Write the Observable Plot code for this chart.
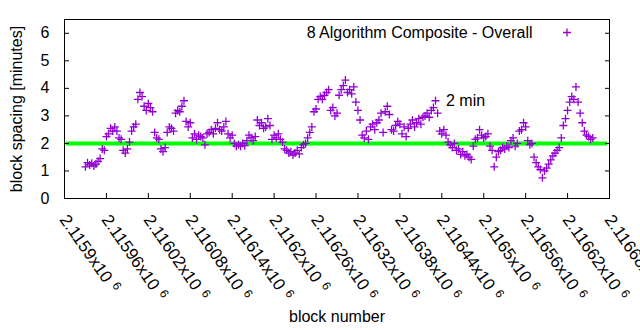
<!DOCTYPE html>
<html>
<head>
<meta charset="utf-8">
<script src="https://cdn.jsdelivr.net/npm/d3@7"></script>
<script src="https://cdn.jsdelivr.net/npm/@observablehq/plot@0.6"></script>
<style>
  html, body { margin: 0; padding: 0; background: #fff; }
  #chart svg { display: block; }
</style>
</head>
<body>
<div id="chart"></div>
<script>
// ---- data ----
const blocks = [
  2115930,2115933,2115936,2115939,2115942,2115945,2115948,2115951,2115954,2115957,
  2115960,2115963,2115966,2115969,2115972,2115975,2115978,2115981,2115984,2115987,
  2115990,2115993,2115996,2115999,2116002,2116005,2116008,2116011,2116014,2116017,
  2116020,2116023,2116026,2116029,2116032,2116035,2116038,2116041,2116044,2116047,
  2116050,2116053,2116056,2116059,2116062,2116065,2116068,2116071,2116074,2116077,
  2116080,2116083,2116086,2116089,2116092,2116095,2116098,2116101,2116104,2116107,
  2116110,2116113,2116116,2116119,2116122,2116125,2116128,2116131,2116134,2116137,
  2116140,2116143,2116146,2116149,2116152,2116155,2116158,2116161,2116164,2116167,
  2116170,2116173,2116176,2116179,2116182,2116185,2116188,2116191,2116194,2116197,
  2116200,2116203,2116206,2116209,2116212,2116215,2116218,2116221,2116224,2116227,
  2116230,2116233,2116236,2116239,2116242,2116245,2116248,2116251,2116254,2116257,
  2116260,2116263,2116266,2116269,2116272,2116275,2116278,2116281,2116284,2116287,
  2116290,2116293,2116296,2116299,2116302,2116305,2116308,2116311,2116314,2116317,
  2116320,2116323,2116326,2116329,2116332,2116335,2116338,2116341,2116344,2116347,
  2116350,2116353,2116356,2116359,2116362,2116365,2116368,2116371,2116374,2116377,
  2116380,2116383,2116386,2116389,2116392,2116395,2116398,2116401,2116404,2116407,
  2116410,2116413,2116416,2116419,2116422,2116425,2116428,2116431,2116434,2116437,
  2116440,2116443,2116446,2116449,2116452,2116455,2116458,2116461,2116464,2116467,
  2116470,2116473,2116476,2116479,2116482,2116485,2116488,2116491,2116494,2116497,
  2116500,2116503,2116506,2116509,2116512,2116515,2116518,2116521,2116524,2116527,
  2116530,2116533,2116536,2116539,2116542,2116545,2116548,2116551,2116554,2116557,
  2116560,2116563,2116566,2116569,2116572,2116575,2116578,2116581,2116584,2116587,
  2116590,2116593,2116596,2116599,2116602,2116605,2116608,2116611,2116614,2116617,
  2116620,2116623,2116626,2116629,2116632,2116635,2116638,2116641,2116644,2116647,
  2116650,2116653,2116656
];
const minutes = [
  1.15,1.30,1.22,1.28,1.18,1.25,1.35,1.45,1.80,1.75,
  2.25,2.35,2.55,2.45,2.60,2.45,2.20,2.15,1.75,1.65,
  1.80,2.05,2.45,2.60,2.70,3.60,3.85,3.70,3.35,3.20,
  3.45,3.30,3.15,2.40,2.20,2.15,1.80,1.70,1.85,2.40,
  2.60,2.55,2.45,3.10,3.20,3.15,3.35,3.55,2.80,2.60,
  2.75,2.20,2.35,2.15,2.30,2.25,2.20,1.95,2.35,2.40,
  2.50,2.35,2.55,2.75,2.50,2.45,2.60,2.80,2.35,2.20,
  2.30,2.00,1.90,1.95,1.90,2.00,1.92,2.10,2.30,2.20,
  2.10,2.25,2.85,2.65,2.75,2.55,2.60,2.90,2.65,2.15,
  2.30,2.20,2.35,2.15,2.05,1.80,1.75,1.65,1.70,1.58,
  1.65,1.75,1.62,1.85,1.95,2.00,2.20,2.40,2.60,3.15,
  3.25,3.60,3.70,3.60,3.75,3.85,3.95,3.20,3.30,3.00,
  3.10,3.75,3.95,4.10,4.30,3.85,3.95,3.80,4.05,3.50,
  3.20,2.85,2.30,2.20,2.45,2.15,2.60,2.70,2.50,2.75,
  2.85,3.10,2.40,3.15,3.35,3.05,2.50,2.45,2.65,2.80,
  2.70,2.35,2.60,2.25,2.55,2.70,2.85,2.60,2.75,2.90,
  2.70,2.95,3.00,3.10,2.95,3.20,3.30,3.55,3.10,2.45,
  2.35,2.50,2.30,2.05,1.95,1.85,2.00,1.75,1.80,1.60,
  1.70,1.55,1.60,1.50,1.42,1.90,2.15,2.20,2.50,2.30,
  2.20,2.25,2.35,1.90,1.75,1.15,1.50,1.70,1.75,1.85,
  1.80,1.90,1.85,2.10,2.20,1.90,2.00,2.45,2.50,2.75,
  2.60,2.10,1.95,2.00,1.50,1.30,1.15,1.05,0.75,1.00,
  1.10,1.25,1.40,1.55,1.65,1.75,1.85,2.20,2.65,2.90,
  3.20,3.50,3.70,3.60,4.05,3.50,3.10,2.75,2.45,2.30,
  2.25,2.15,2.20
];
const xTicks = [2115900, 2115960, 2116020, 2116080, 2116140, 2116200, 2116260,
                2116320, 2116380, 2116440, 2116500, 2116560, 2116620, 2116680];
const yTicks = [0, 1, 2, 3, 4, 5, 6];
const targetMinutes = [2];
const seriesName = "8 Algorithm Composite - Overall";
const noteText = "2 min";
const noteBlock = 2116446;
const noteValue = 3.53;

// ---- chart ----
const data = blocks.map((b, i) => ({block: b, minutes: minutes[i]}));
const plusSym = {
  draw(ctx, size) {
    const r = Math.sqrt(size / Math.PI);
    ctx.moveTo(-r, 0); ctx.lineTo(r, 0);
    ctx.moveTo(0, -r); ctx.lineTo(0, r);
  }
};
const purple = "#9400d3";
const fmt = v => String(+(v / 1e6).toPrecision(6)) + "x10";

const chart = Plot.plot({
  width: 640,
  height: 330,
  marginLeft: 64,
  marginRight: 31,
  marginTop: 19,
  marginBottom: 132,
  style: {fontFamily: "'Liberation Sans', Arial, sans-serif", fontSize: "16px", color: "#000", background: "#fff"},
  x: {domain: [2115900, 2116680]},
  y: {domain: [0, 6.5]},
  marks: [
    Plot.ruleY(targetMinutes, {stroke: "#00ff00", strokeWidth: 4, insetLeft: 2, insetRight: 2}),
    Plot.dot(data, {x: "block", y: "minutes", symbol: plusSym, r: 4, stroke: purple, strokeWidth: 1.3, fill: "none"}),
    Plot.frame({stroke: "#000", strokeWidth: 1}),
    Plot.axisY(yTicks, {anchor: "left", tickSize: -5, text: null, label: null}),
    Plot.axisY(yTicks, {anchor: "right", tickSize: -5, text: null, label: null}),
    Plot.axisY(yTicks, {anchor: "left", tickSize: 0, tickPadding: 15, fontSize: 16,
      label: "block spacing [minutes]", labelAnchor: "center", labelArrow: "none", labelOffset: 54}),
    Plot.axisX(xTicks, {anchor: "bottom", tickSize: -5, text: null, label: null}),
    Plot.text(xTicks, {x: d => d, frameAnchor: "bottom", text: fmt, rotate: 55,
      textAnchor: "start", lineAnchor: "middle", dy: 18, dx: -1, fontSize: 17, className: "xtl"}),
    Plot.text(["block number"], {frameAnchor: "bottom", dy: 118, fontSize: 16, lineAnchor: "middle"}),
    Plot.text([seriesName], {frameAnchor: "top-right", dx: -77, dy: 13, textAnchor: "end", lineAnchor: "middle", fontSize: 16}),
    Plot.dot([seriesName], {frameAnchor: "top-right", dx: -42.5, dy: 13, symbol: plusSym, r: 4, stroke: purple, strokeWidth: 1.3, fill: "none"}),
    Plot.text([noteText], {x: () => noteBlock, y: () => noteValue, text: d => d, textAnchor: "start", lineAnchor: "middle", fontSize: 16})
  ]
});

chart.querySelectorAll(".xtl text").forEach(t => {
  const s = t.textContent;
  t.textContent = s;
  const sp = document.createElementNS("http://www.w3.org/2000/svg", "tspan");
  sp.setAttribute("font-size", "12");
  sp.setAttribute("dy", "-0.45em");
  sp.setAttribute("dx", "6");
  sp.textContent = "6";
  t.appendChild(sp);
});

document.getElementById("chart").appendChild(chart);
</script>
</body>
</html>
